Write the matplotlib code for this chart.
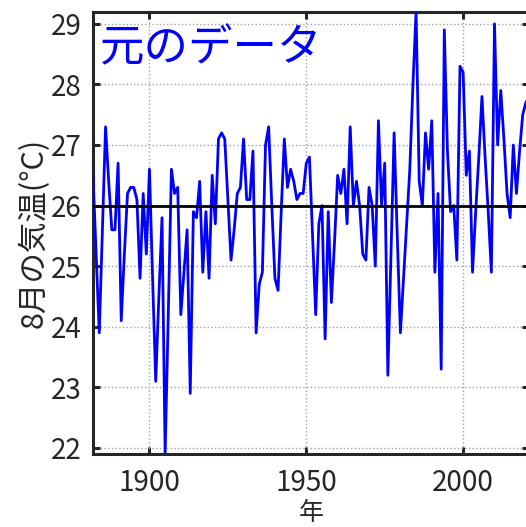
import matplotlib
matplotlib.use("Agg")
import matplotlib.pyplot as plt

plt.rcParams['font.family'] = ['Noto Sans CJK JP', 'DejaVu Sans']

# August mean temperature by year
years = list(range(1882, 2022))
temps = [
    26.5, 25.2, 23.9, 25.6, 27.3, 26.4, 25.6, 25.6, 26.7, 24.1,   # 1882-1891
    25.2, 26.2, 26.3, 26.3, 26.1, 24.8, 26.2, 25.2, 26.6, 24.8,   # 1892-1901
    23.1, 24.5, 25.8, 21.9, 24.2, 26.6, 26.2, 26.3, 24.2, 24.9,   # 1902-1911
    25.6, 22.9, 25.9, 25.8, 26.4, 24.9, 25.9, 24.8, 26.5, 25.7,   # 1912-1921
    27.1, 27.2, 27.1, 26.1, 25.1, 25.6, 26.2, 26.3, 27.1, 26.1,   # 1922-1931
    26.1, 26.9, 23.9, 24.7, 24.9, 27.0, 27.3, 26.0, 24.8, 24.6,   # 1932-1941
    25.9, 27.1, 26.3, 26.6, 26.4, 26.1, 26.2, 26.2, 26.7, 26.8,   # 1942-1951
    25.5, 24.2, 25.7, 26.0, 23.8, 25.9, 24.4, 25.4, 26.5, 26.2,   # 1952-1961
    26.6, 25.7, 27.3, 26.0, 26.4, 26.0, 25.2, 25.1, 26.3, 26.0,   # 1962-1971
    25.0, 27.4, 26.0, 26.7, 23.2, 25.2, 27.2, 25.5, 23.9, 24.8,   # 1972-1981
    25.7, 26.6, 28.0, 29.2, 26.4, 26.0, 27.2, 26.6, 27.4, 24.9,   # 1982-1991
    26.2, 23.3, 28.9, 26.9, 25.9, 26.0, 25.1, 28.3, 28.2, 26.5,   # 1992-2001
    26.9, 24.9, 25.9, 26.8, 27.8, 26.8, 25.9, 24.9, 29.0, 27.0,   # 2002-2011
    27.9, 27.1, 26.2, 25.8, 27.0, 26.2, 26.9, 27.5, 27.7, 27.8,   # 2012-2021
]
reference_level = 26.0

x_ticks = [1900, 1950, 2000]
y_ticks = [22, 23, 24, 25, 26, 27, 28, 29]
title_text = "元のデータ"
x_label = "年"
y_label = "8月の気温(°C)"

W, H = 526, 527
ax_bottom_px, ax_top_px = 454, 11.7
fig = plt.figure(figsize=(W / 100, H / 100), dpi=100)
ax = fig.add_axes([93 / W, (H - ax_bottom_px) / H, (529 - 93) / W,
                   (ax_bottom_px - ax_top_px) / H])

ax.plot(years, temps, color='#0000ff', lw=2.0, zorder=3)
ax.axhline(reference_level, color='black', lw=2.0, zorder=4)

ax.set_xlim(min(years), max(years))
ax.set_ylim(min(temps), max(temps))
ax.set_xticks(x_ticks)
ax.set_yticks(y_ticks)

dark = '#262626'
for s in ax.spines.values():
    s.set_linewidth(2.2)
    s.set_color(dark)
ax.tick_params(direction='in', length=5, width=2.2, colors=dark,
               labelsize=20, top=True, right=True)
ax.tick_params(axis='x', pad=10)
ax.tick_params(axis='y', pad=8)
ax.grid(True, color='#a0a0a0', linestyle=':', linewidth=1.0, zorder=1)

# x label sits on the bottom edge of the figure
ax.set_xlabel(x_label, fontsize=18, color=dark, va='bottom')
ax.xaxis.set_label_coords(0.5, -(H - ax_bottom_px - 1) / (ax_bottom_px - ax_top_px))
ax.set_ylabel(y_label, fontsize=22, color=dark, labelpad=1)

ax.text(0.016, 0.918, title_text, transform=ax.transAxes, color='#0000ff',
        fontsize=32, ha='left', va='center', zorder=5)

fig.savefig("out.png", dpi=100)
